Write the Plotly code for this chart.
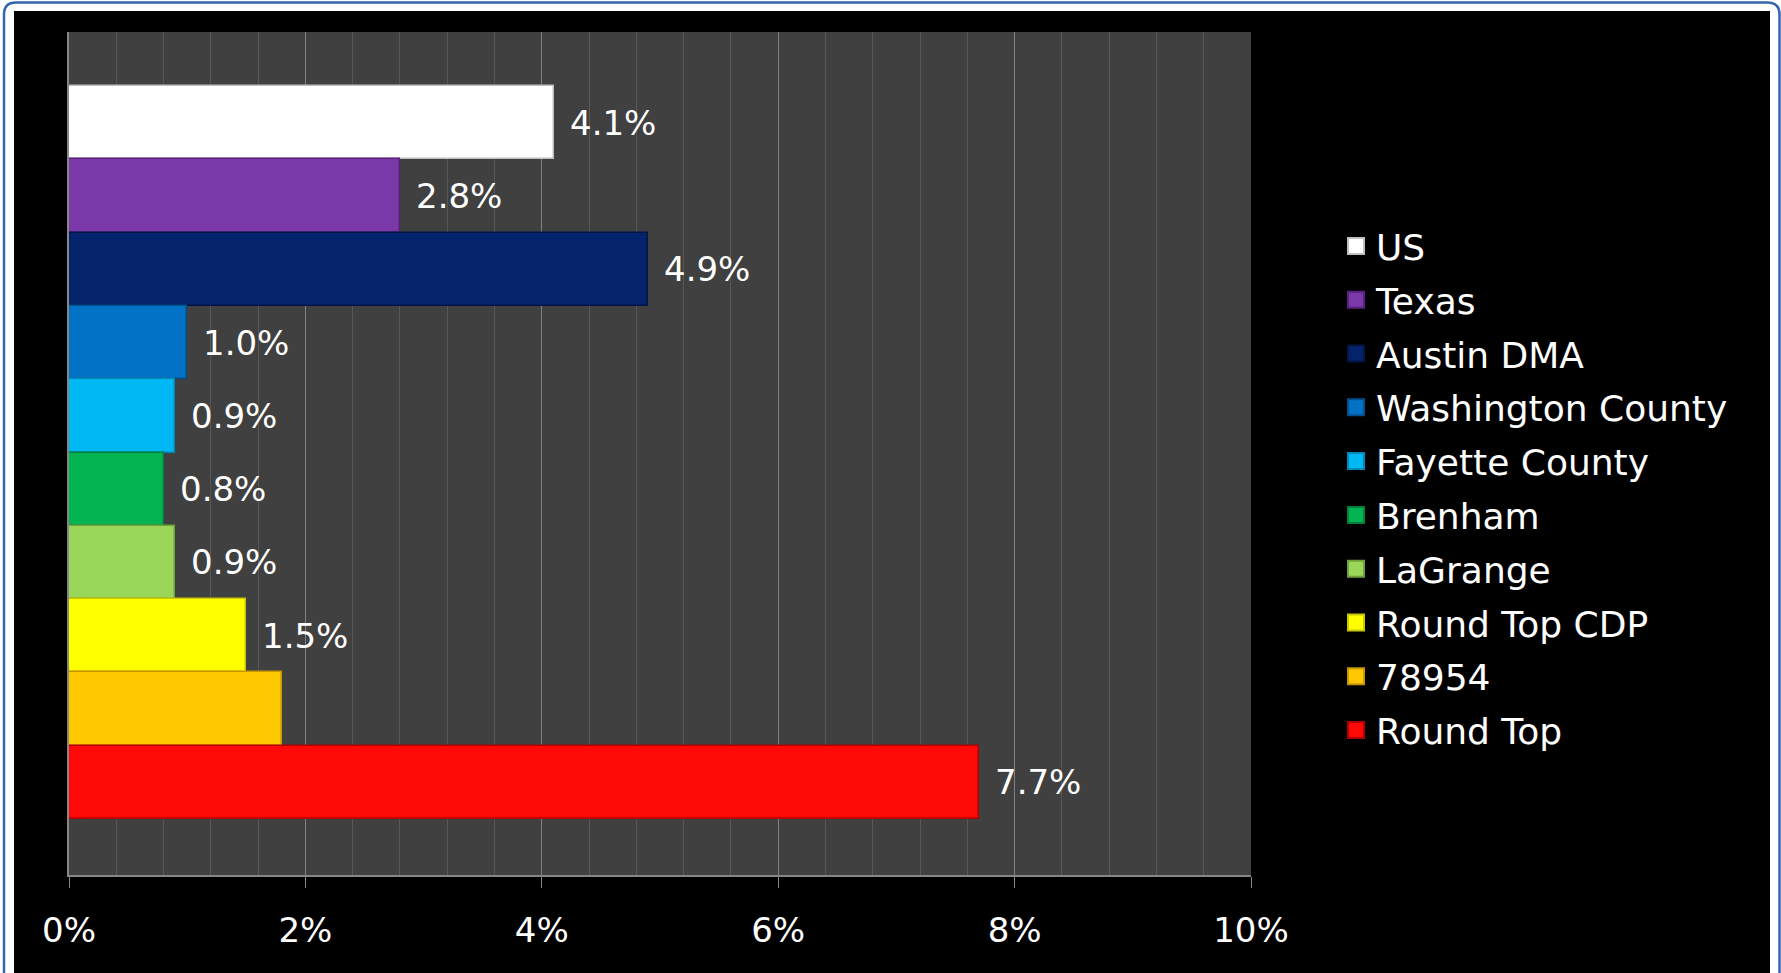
import plotly.graph_objects as go

# ---- data ----
categories = ["US", "Texas", "Austin DMA", "Washington County", "Fayette County",
              "Brenham", "LaGrange", "Round Top CDP", "78954", "Round Top"]
values = [0.041, 0.028, 0.049, 0.010, 0.009, 0.008, 0.009, 0.015, 0.018, 0.077]
colors = ["#FFFFFF", "#7A38A8", "#05236A", "#0272C6", "#00B8F4",
          "#04B452", "#9AD65A", "#FFFF00", "#FFC800", "#FF0808"]
edge_colors = ["#BFBFBF", "#5A2080", "#021545", "#01508C", "#0088B8",
               "#03803A", "#6FA03C", "#C8C800", "#C89600", "#B00000"]
x_ticks = [0, 0.02, 0.04, 0.06, 0.08, 0.10]
x_ticktext = ["0%", "2%", "4%", "6%", "8%", "10%"]

W, H = 1781, 973
L, R, T, B = 69, 1251, 32, 875  # plot area in pixels
FONT = "DejaVu Sans"


def px_x(p):
    return (p - L) / (R - L)


def px_y(p):
    return (B - p) / (B - T)


fig = go.Figure()
for name, v, c, ec in zip(categories, values, colors, edge_colors):
    fig.add_trace(go.Bar(
        x=[v], y=[name], orientation="h", name=name,
        marker=dict(color=c, line=dict(color=ec, width=1.5)),
        showlegend=False, hoverinfo="x+name",
    ))
    fig.add_annotation(
        x=v, y=name, text=f"{v*100:.1f}%", showarrow=False,
        xanchor="left", yanchor="middle", xshift=14,
        font=dict(family=FONT, size=34, color="white"),
    )

# legend-only entries (larger square swatches)
for name, c, ec in zip(categories, colors, edge_colors):
    fig.add_trace(go.Scatter(
        x=[None], y=[None], mode="markers", name=name,
        marker=dict(symbol="square", size=16, color=c,
                    line=dict(color=ec, width=2)),
        legendgroup=name, showlegend=True, hoverinfo="skip",
    ))

n = len(categories)
shapes = [
    # black chart panel
    dict(type="rect", xref="paper", yref="paper", layer="below",
         x0=px_x(14), x1=px_x(1770), y0=px_y(990), y1=px_y(11),
         fillcolor="black", line=dict(width=0)),
    # plot area background
    dict(type="rect", xref="paper", yref="paper", layer="below",
         x0=0, x1=1, y0=0, y1=1, fillcolor="#404040", line=dict(width=0)),
]
# rounded blue frame
bx0, bx1, by_top, by_bot = px_x(4), px_x(1779.5), px_y(2.5), px_y(1000)
rx, ry = 12 / (R - L), 12 / (B - T)
path = (f"M {bx0},{by_bot} L {bx0},{by_top - ry} Q {bx0},{by_top} {bx0 + rx},{by_top} "
        f"L {bx1 - rx},{by_top} Q {bx1},{by_top} {bx1},{by_top - ry} L {bx1},{by_bot}")
shapes.append(dict(type="path", xref="paper", yref="paper", path=path,
                   line=dict(color="#3465AC", width=2.5), layer="below"))

fig.update_layout(
    width=W, height=H,
    margin=dict(l=L, r=W - R, t=T, b=H - B, pad=0),
    paper_bgcolor="white", plot_bgcolor="#404040",
    barmode="overlay", bargap=0,
    showlegend=True,
    legend=dict(
        x=px_x(1336), y=px_y(216), xanchor="left", yanchor="top",
        font=dict(family=FONT, size=36, color="white"),
        bgcolor="rgba(0,0,0,0)", tracegroupgap=4, itemwidth=30,
        itemsizing="trace",
    ),
    shapes=shapes,
    xaxis=dict(
        range=[0, 0.10], tickvals=x_ticks, ticktext=x_ticktext,
        tickfont=dict(family=FONT, size=34, color="white"),
        ticks="outside", ticklen=11, tickcolor="#868686", tickwidth=1,
        showline=True, linecolor="#868686", linewidth=1.5,
        showgrid=True, gridcolor="#828282", gridwidth=1,
        zeroline=False, ticklabelstandoff=13,
        minor=dict(dtick=0.004, showgrid=True, gridcolor="#575757",
                   gridwidth=1, ticks=""),
        fixedrange=True,
    ),
    yaxis=dict(
        type="category", categoryorder="array",
        categoryarray=list(reversed(categories)),
        range=[-1.264, n - 0.5 + 0.737],
        showticklabels=False, showgrid=False, zeroline=False,
        showline=True, linecolor="#868686", linewidth=1.5, ticks="",
        fixedrange=True,
    ),
)

fig.write_html(
    "out.html",
    config={"displayModeBar": False},
    post_script="document.body.style.margin='0';document.body.style.overflow='hidden';",
)
